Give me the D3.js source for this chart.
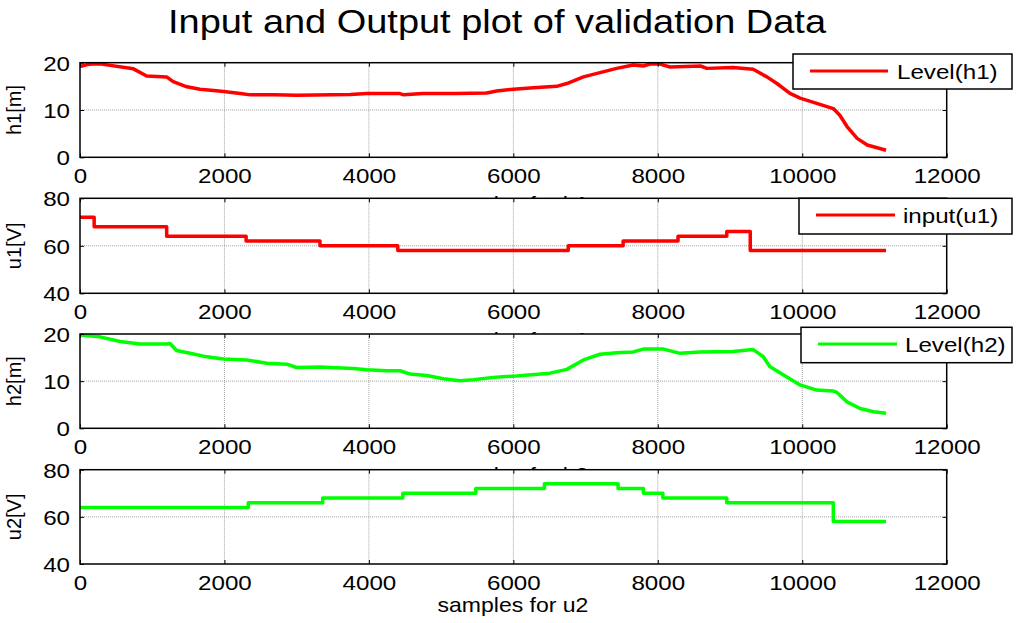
<!DOCTYPE html>
<html><head><meta charset="utf-8">
<script src="https://cdn.jsdelivr.net/npm/d3@7"></script>
<style>body{margin:0;background:#fff}svg{display:block}text{font-family:"Liberation Sans",Arial,sans-serif;fill:#000}</style>
</head><body>
<svg id="c" width="1024" height="623"></svg>
<script>
// ---------- data ----------
const titleText = "Input and Output plot of validation Data";
const xTicks = [0, 2000, 4000, 6000, 8000, 10000, 12000];

const h1Samples = [0, 100, 200, 300, 740, 923, 1200, 1290, 1480, 1660, 1850, 1990, 2220, 2360, 2700, 3000, 3740, 3970, 4420, 4480, 4750, 5200, 5630, 5770, 6000, 6280, 6600, 6740, 6970, 7200, 7430, 7660, 7800, 7890, 8030, 8170, 8590, 8680, 9040, 9320, 9510, 9650, 9830, 9970, 10200, 10430, 10520, 10620, 10760, 10900, 11160];
const h1Values  = [19.2, 19.6, 19.8, 19.7, 18.7, 17.2, 17.0, 16.0, 14.9, 14.4, 14.1, 13.9, 13.5, 13.2, 13.2, 13.1, 13.3, 13.5, 13.5, 13.2, 13.5, 13.5, 13.6, 14.0, 14.4, 14.7, 15.0, 15.6, 17.0, 17.9, 18.8, 19.5, 19.3, 19.7, 19.7, 19.1, 19.3, 18.8, 19.0, 18.6, 17.0, 15.6, 13.5, 12.5, 11.4, 10.3, 8.9, 6.5, 4.0, 2.6, 1.5];

const u1Samples = [0, 196, 1200, 2300, 3323, 4400, 6760, 7520, 8280, 8955, 9280, 11160];
const u1Values  = [72, 68, 64, 62, 60, 58, 60, 62, 64, 66, 58, 58];

const h2Samples = [0, 277, 554, 830, 1200, 1246, 1338, 1523, 1708, 1985, 2308, 2585, 2862, 3000, 3323, 3785, 3970, 4246, 4430, 4570, 4800, 5030, 5260, 5446, 5723, 6046, 6508, 6740, 6970, 7200, 7430, 7660, 7800, 8080, 8310, 8585, 9040, 9320, 9460, 9550, 9740, 9970, 10200, 10430, 10480, 10620, 10800, 10990, 11160];
const h2Values  = [19.8, 19.4, 18.4, 17.9, 17.9, 18.0, 16.5, 15.9, 15.3, 14.7, 14.5, 13.8, 13.6, 12.9, 13.0, 12.7, 12.4, 12.2, 12.2, 11.5, 11.2, 10.5, 10.1, 10.3, 10.8, 11.1, 11.7, 12.5, 14.5, 15.7, 16.0, 16.2, 16.8, 16.8, 15.9, 16.2, 16.3, 16.7, 15.2, 13.1, 11.3, 9.2, 8.1, 7.9, 7.6, 5.6, 4.2, 3.5, 3.2];

const u2Samples = [0, 2330, 3360, 4470, 5480, 6430, 7450, 7800, 8070, 8955, 10430, 11160];
const u2Values  = [64, 66, 68, 70, 72, 74, 72, 70, 68, 66, 58, 58];

const yDomains  = [[0, 20], [40, 80], [0, 20], [40, 80]];
const yTickSets = [[0, 10, 20], [40, 60, 80], [0, 10, 20], [40, 60, 80]];
const yLabels   = ["h1[m]", "u1[V]", "h2[m]", "u2[V]"];
const xLabels   = ["samples for h1", "samples for u1", "samples for h2", "samples for u2"];
const legendNames = ["Level(h1)", "input(u1)", "Level(h2)", null];
const seriesColors = ["#ff0000", "#ff0000", "#00ff00", "#00ff00"];
const stepSeries = [false, true, false, true];

// ---------- layout ----------
const svg = d3.select("#c");
const SX = 1.15; // horizontal stretch of text
const xLeft = 80, xRight = 946.7;
const panelBox = [[62.7, 157.3], [198.3, 293.3], [334, 428.3], [469.7, 564]];
const xLabelOffset = [54, 54, 54, 48];
const legendBox = [
  {x: 793, y: 54, w: 219, h: 35, l1: 810, l2: 888, ly: 71, tx: 897},
  {x: 799, y: 198.3, w: 213, h: 35.7, l1: 816, l2: 895, ly: 215, tx: 903},
  {x: 801, y: 327.3, w: 211, h: 35.4, l1: 818, l2: 897, ly: 344, tx: 905},
  null
];
const seriesX = [h1Samples, u1Samples, h2Samples, u2Samples];
const seriesY = [h1Values, u1Values, h2Values, u2Values];

const x = d3.scaleLinear().domain([0, 12000]).range([xLeft, xRight]);
const fmt = d3.format("d");

// title
const TS = 1.15;
svg.append("text").attr("x", 497 / TS).attr("y", 33).attr("text-anchor", "middle")
  .attr("font-size", 33).attr("transform", `scale(${TS},1)`).text(titleText);

for (let i = 0; i < 4; i++) {
  const [top, bot] = panelBox[i];
  const y = d3.scaleLinear().domain(yDomains[i]).range([bot, top]);
  const g = svg.append("g");
  g.append("rect").attr("x", xLeft).attr("y", top).attr("width", xRight - xLeft).attr("height", bot - top).attr("fill", "#fff");

  // grid
  g.append("g").selectAll("line").data(xTicks.slice(1, -1)).join("line")
    .attr("x1", d => x(d)).attr("x2", d => x(d)).attr("y1", top).attr("y2", bot)
    .attr("stroke", "#a0a0a0").attr("stroke-width", 1).attr("stroke-dasharray", "1,1");
  g.append("g").selectAll("line").data(yTickSets[i].slice(1, -1)).join("line")
    .attr("x1", xLeft).attr("x2", xRight).attr("y1", d => y(d)).attr("y2", d => y(d))
    .attr("stroke", "#a0a0a0").attr("stroke-width", 1).attr("stroke-dasharray", "1,1");

  // data line
  const pts = seriesX[i].map((s, k) => [s, seriesY[i][k]]);
  const line = d3.line().x(d => x(d[0])).y(d => y(d[1]))
    .curve(stepSeries[i] ? d3.curveStepAfter : d3.curveLinear);
  g.append("path").datum(pts).attr("d", line).attr("fill", "none")
    .attr("stroke", seriesColors[i]).attr("stroke-width", 3.5).attr("stroke-linejoin", "round");

  // axes with inward ticks
  const axB = g.append("g").attr("transform", `translate(0,${bot})`)
    .call(d3.axisBottom(x).tickValues(xTicks).tickFormat(fmt).tickSizeInner(-4).tickSizeOuter(0).tickPadding(12));
  const axT = g.append("g").attr("transform", `translate(0,${top})`)
    .call(d3.axisTop(x).tickValues(xTicks).tickSizeInner(-4).tickSizeOuter(0).tickFormat(""));
  const axL = g.append("g").attr("transform", `translate(${xLeft},0)`)
    .call(d3.axisLeft(y).tickValues(yTickSets[i]).tickFormat(fmt).tickSizeInner(-4).tickSizeOuter(0).tickPadding(10));
  const axR = g.append("g").attr("transform", `translate(${xRight},0)`)
    .call(d3.axisRight(y).tickValues(yTickSets[i]).tickSizeInner(-4).tickSizeOuter(0).tickFormat(""));
  [axB, axT, axL, axR].forEach(a => {
    a.select(".domain").remove();
    a.selectAll("line").attr("stroke", "#000").attr("stroke-width", 1);
  });
  axB.selectAll("text").attr("font-size", 21).attr("font-family", "Liberation Sans, Arial, sans-serif")
    .attr("fill", "#000").attr("dy", "0.71em").attr("y", 11)
    .attr("transform", `scale(${SX},1)`);
  axL.selectAll("text").attr("font-size", 21).attr("font-family", "Liberation Sans, Arial, sans-serif")
    .attr("fill", "#000").attr("x", -10 / SX).attr("dy", "0.36em")
    .attr("transform", `scale(${SX},1)`);

  g.append("rect").attr("x", xLeft).attr("y", top).attr("width", xRight - xLeft).attr("height", bot - top)
    .attr("fill", "none").attr("stroke", "#000").attr("stroke-width", 1.5);

  // x label (partly hidden by the next panel)
  svg.append("text").attr("x", 513 / SX).attr("y", bot + xLabelOffset[i]).attr("text-anchor", "middle")
    .attr("font-size", 20).attr("transform", `scale(${SX},1)`).text(xLabels[i]);

  // y label
  svg.append("text").attr("transform", `translate(${21},${(top + bot) / 2}) rotate(-90)`)
    .attr("text-anchor", "middle").attr("font-size", 20).text(yLabels[i]);

  // legend
  const L = legendBox[i];
  if (L) {
    const lg = svg.append("g");
    lg.append("rect").attr("x", L.x).attr("y", L.y).attr("width", L.w).attr("height", L.h)
      .attr("fill", "#fff").attr("stroke", "#000").attr("stroke-width", 1.5);
    lg.append("line").attr("x1", L.l1).attr("x2", L.l2).attr("y1", L.ly).attr("y2", L.ly)
      .attr("stroke", seriesColors[i]).attr("stroke-width", 3);
    lg.append("text").attr("x", L.tx / SX).attr("y", L.ly + 8).attr("font-size", 21)
      .attr("transform", `scale(${SX},1)`).text(legendNames[i]);
  }
}
</script>
</body></html>
